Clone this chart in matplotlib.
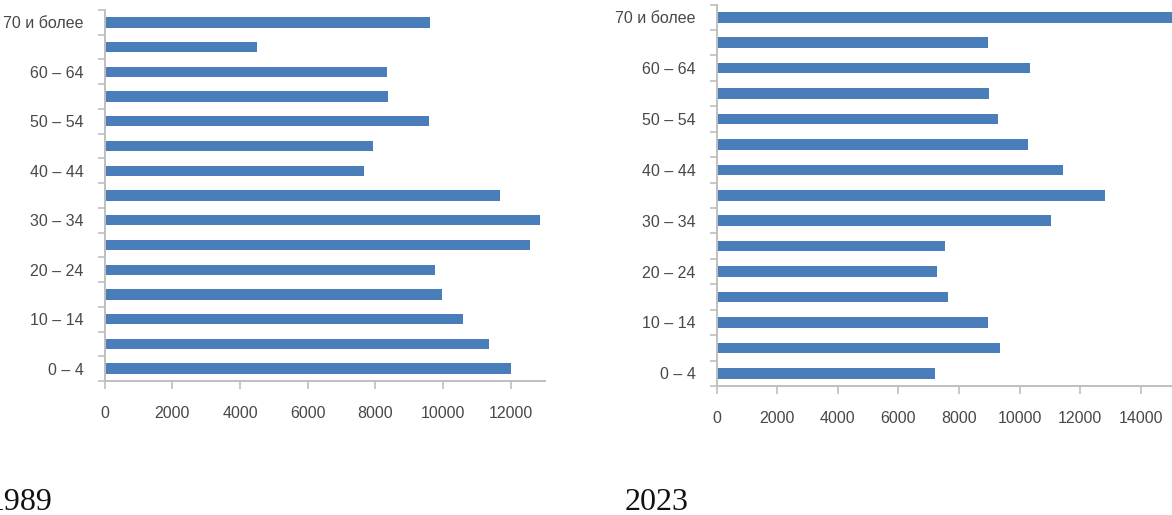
import matplotlib.pyplot as plt
import numpy as np

# === DATA ===
age_groups = ['0 – 4', '5 – 9', '10 – 14', '15 – 19', '20 – 24', '25 – 29', '30 – 34',
              '35 – 39', '40 – 44', '45 – 49', '50 – 54', '55 – 59', '60 – 64',
              '65 – 69', '70 и более']
pop_1989 = [12020, 11360, 10580, 9970, 9750, 12560, 12860, 11680, 7650, 7930,
            9590, 8385, 8350, 4500, 9620]
pop_2023 = [7200, 9340, 8940, 7640, 7280, 7520, 11020, 12830, 11445, 10265,
            9290, 8975, 10350, 8940, 16000]
x_ticks_1989 = [0, 2000, 4000, 6000, 8000, 10000, 12000]
x_ticks_2023 = [0, 2000, 4000, 6000, 8000, 10000, 12000, 14000]

# === SETTINGS ===
plt.rcParams.update({
    'font.family': ['Liberation Sans', 'DejaVu Sans'],
    'font.size': 11.5,
    'axes.edgecolor': '#bfbfbf',
    'axes.linewidth': 1.4,
    'xtick.color': '#bfbfbf',
    'ytick.color': '#bfbfbf',
    'xtick.labelcolor': '#484848',
    'ytick.labelcolor': '#484848',
})
bar_color = '#4a7ebb'

fig = plt.figure(figsize=(11.72, 5.15), dpi=100)
ax1 = fig.add_axes([0.0893, 0.2602, 0.3754, 0.7204])
ax2 = fig.add_axes([0.6115, 0.2505, 0.4654, 0.7406])


def draw_panel(ax, values, xticks, xmax):
    y = np.arange(len(age_groups))
    ax.barh(y, values, height=0.42, color=bar_color)
    ax.set_xlim(0, xmax)
    ax.set_ylim(-0.5, len(age_groups) - 0.5)
    ax.set_xticks(xticks)
    ax.set_yticks(y[::2])
    ax.set_yticklabels(age_groups[::2])
    ax.set_yticks(np.arange(-0.5, len(age_groups), 1), minor=True)
    ax.tick_params(axis='y', which='major', length=0, pad=15)
    ax.tick_params(axis='y', which='minor', length=5, width=1.2, direction='out')
    ax.tick_params(axis='x', which='major', length=6, width=1.2, direction='out', pad=12)
    for side in ['top', 'right']:
        ax.spines[side].set_visible(False)


draw_panel(ax1, pop_1989, x_ticks_1989, 13000)
draw_panel(ax2, pop_2023, x_ticks_2023, 18000)

# captions under the charts
fig.text(-0.0102, 0.0097, '1989', family='Liberation Serif', fontsize=23,
         va='baseline', ha='left', color='#111111')
fig.text(0.5333, 0.0097, '2023', family='Liberation Serif', fontsize=23,
         va='baseline', ha='left', color='#111111')

plt.savefig('out.png', dpi=100)
plt.close()
